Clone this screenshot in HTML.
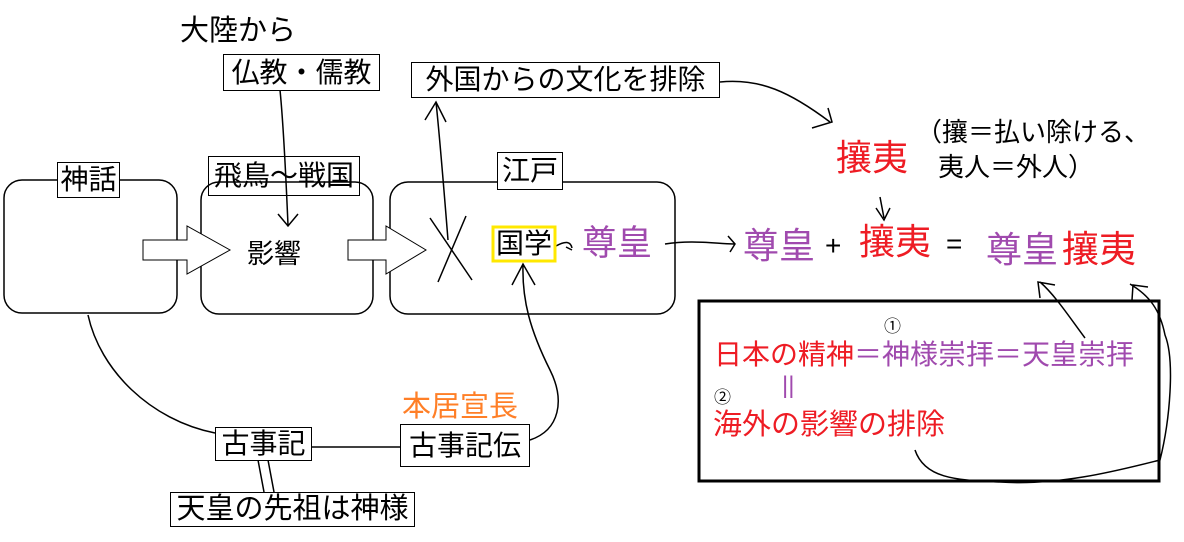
<!DOCTYPE html>
<html><head><meta charset="utf-8"><style>
body{margin:0;width:1184px;height:542px;background:#fff;position:relative;overflow:hidden;font-family:"Liberation Sans","Noto Sans CJK JP",sans-serif;}
.t{position:absolute;white-space:nowrap;line-height:1;}
.b{position:absolute;border:1px solid #000;background:#fff;box-sizing:border-box;font-size:28px;line-height:1;display:flex;align-items:center;justify-content:center;white-space:nowrap;}
.p{color:#a04aae}.r{color:#ee1c24}
svg{position:absolute;left:0;top:0}
</style></head><body>
<svg width="1184" height="542" fill="none" stroke="#000" stroke-width="1.5">
<rect x="4" y="180" width="173" height="133" rx="18"/>
<rect x="201" y="182" width="172" height="132" rx="18"/>
<rect x="390" y="182" width="285" height="132" rx="18"/>
<path d="M143,240 h44 v-14 l43,24 l-43,24 v-14 h-44z" fill="#fff" stroke-width="1"/>
<path d="M348,240 h38 v-14 l40,24 l-40,24 v-14 h-38z" fill="#fff" stroke-width="1"/>
<path d="M280,90 C284,130 286,180 288,225 M278,214 L288,226 L298,214"/>
<path d="M448,240 C444,190 440,140 436,102 M425,120 L436,102 L446,122"/>
<path d="M430,218 L472,280 M466,216 L438,282"/>
<path d="M720,82 C760,78 790,92 830,122 M812,128 L832,122 L828,108"/>
<path d="M880,197 L884,218 M876,208 L884,220 L890,208"/>
<path d="M665,244 C690,240 710,243 734,244 M728,236 L735,244 L730,252"/>
<path d="M556,246 Q570,238 572,248 M566,247 L572,250"/>
<path d="M1085,338 C1070,318 1055,295 1040,282 M1040,298 L1038,282 L1055,285"/>
<path d="M915,450 C925,480 960,480 1000,482 C1060,486 1120,470 1160,460 C1170,420 1175,360 1165,335 C1160,310 1150,296 1130,284 M1132,300 L1133,285 L1148,287" />
<path d="M88,315 C100,370 150,420 215,433"/>
<path d="M312,447 L400,447"/>
<path d="M258,460 L264,492 M268,460 L274,492"/>
<path d="M530,440 C560,430 565,400 550,370 C530,330 522,300 523,265 M512,285 L523,264 L535,285"/>
<rect x="699" y="301" width="460" height="180" stroke-width="3"/>
<rect x="493" y="227" width="62" height="34" stroke="#ffe800" stroke-width="3"/>
</svg>
<div class="t" style="left:180px;top:17px;font-size:29px">大陸から</div>
<div class="b" style="left:223px;top:54px;width:157px;height:37px">仏教・儒教</div>
<div class="b" style="left:411px;top:62px;width:309px;height:36px">外国からの文化を排除</div>
<div class="b" style="left:497px;top:152px;width:66px;height:38px">江戸</div>
<div class="b" style="left:57px;top:162px;width:63px;height:36px">神話</div>
<div class="b" style="left:208px;top:156px;width:152px;height:40px;background:transparent">飛鳥〜戦国</div>
<div class="t" style="left:247px;top:241px;font-size:27px">影響</div>
<div class="t" style="left:496px;top:230px;font-size:28px">国学</div>
<div class="t p" style="left:582px;top:226px;font-size:35px">尊皇</div>
<div class="t r" style="left:836px;top:140px;font-size:36px">攘夷</div>
<div class="t" style="left:916px;top:119px;font-size:26px">（攘＝払い除ける、</div>
<div class="t" style="left:938px;top:154px;font-size:26px">夷人＝外人）</div>
<div class="t p" style="left:743px;top:228px;font-size:36px">尊皇</div>
<div class="t" style="left:825px;top:232px;font-size:28px">+</div>
<div class="t r" style="left:859px;top:224px;font-size:36px">攘夷</div>
<div class="t" style="left:946px;top:230px;font-size:28px">=</div>
<div class="t p" style="left:986px;top:232px;font-size:36px">尊皇</div>
<div class="t r" style="left:1062px;top:231px;font-size:37px">攘夷</div>
<div class="t" style="left:884px;top:318px;font-size:17px">①</div>
<div class="t" style="left:714px;top:341px;font-size:28px"><span class="r">日本の精神</span><span class="p">＝神様崇拝＝天皇崇拝</span></div>
<div class="t p" style="left:782px;top:374px;font-size:24px">||</div>
<div class="t" style="left:714px;top:389px;font-size:17px">②</div>
<div class="t r" style="left:713px;top:411px;font-size:29px">海外の影響の排除</div>
<div class="t" style="left:402px;top:393px;font-size:29px;color:#ff7f27">本居宣長</div>
<div class="b" style="left:400px;top:424px;width:130px;height:43px">古事記伝</div>
<div class="b" style="left:215px;top:427px;width:97px;height:34px">古事記</div>
<div class="b" style="left:170px;top:492px;width:245px;height:35px;font-size:29px">天皇の先祖は神様</div>
</body></html>
